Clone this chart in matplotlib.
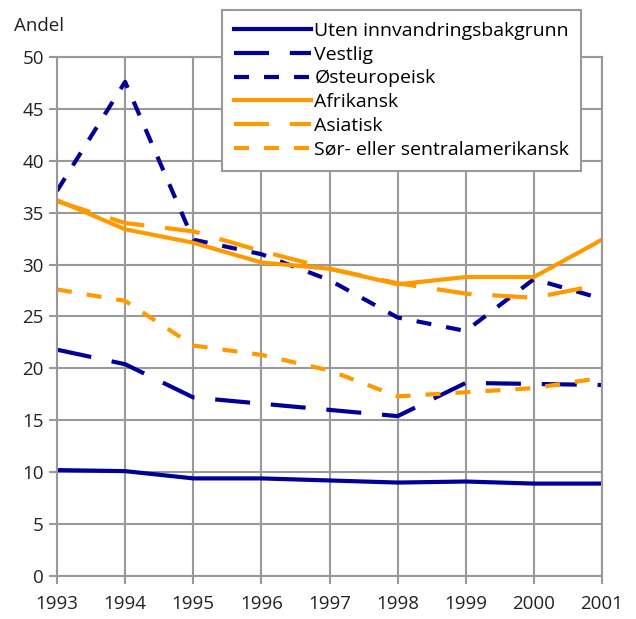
import matplotlib.pyplot as plt

plt.rcParams['font.family'] = ['Open Sans', 'DejaVu Sans']

years = [1993, 1994, 1995, 1996, 1997, 1998, 1999, 2000, 2001]
uten = [10.2, 10.1, 9.4, 9.4, 9.2, 9.0, 9.1, 8.9, 8.9]
vestlig = [21.8, 20.4, 17.2, 16.6, 16.0, 15.4, 18.6, 18.5, 18.4]
osteuropeisk = [37.1, 47.6, 32.4, 31.0, 28.5, 24.9, 23.6, 28.6, 26.7]
afrikansk = [36.2, 33.4, 32.1, 30.2, 29.6, 28.1, 28.8, 28.8, 32.4]
asiatisk = [36.1, 34.0, 33.2, 31.3, 29.6, 28.2, 27.2, 26.8, 28.1]
sor = [27.6, 26.5, 22.2, 21.3, 19.8, 17.3, 17.7, 18.1, 19.1]

navy = '#000099'
orange = '#FF9900'
grey = '#999999'

fig = plt.figure(figsize=(6.36, 6.19), dpi=100)
ax = fig.add_axes([0.0896, 0.0695, 0.857, 0.8385])

lw = 3.0
long_dash = (8.4, 5)
short_dash = (3.6, 3.6)
ax.plot(years, uten, color=navy, lw=lw, label='Uten innvandringsbakgrunn')
ax.plot(years, vestlig, color=navy, lw=lw, dashes=long_dash, label='Vestlig')
ax.plot(years, osteuropeisk, color=navy, lw=lw, dashes=short_dash, label='Østeuropeisk')
ax.plot(years, afrikansk, color=orange, lw=lw, label='Afrikansk')
ax.plot(years, asiatisk, color=orange, lw=lw, dashes=long_dash, label='Asiatisk')
ax.plot(years, sor, color=orange, lw=lw, dashes=short_dash, label='Sør- eller sentralamerikansk')

ax.set_xlim(1993, 2001)
ax.set_ylim(0, 50)
ax.set_xticks(years)
ax.set_yticks(range(0, 51, 5))
ax.grid(True, color=grey, lw=1.5)
ax.set_axisbelow(True)
for s in ax.spines.values():
    s.set_color(grey)
    s.set_linewidth(1.5)
ax.tick_params(colors=grey, width=1.5, length=6, labelsize=13.5, labelcolor='#222222')
ax.tick_params(axis='x', pad=8)

fig.text(0.022, 0.958, 'Andel', fontsize=13.5, color='#222222', va='center')

leg = ax.legend(loc='upper left', bbox_to_anchor=(222 / 636, 1 - 10 / 619),
                bbox_transform=fig.transFigure, fontsize=14, handlelength=4.0,
                handletextpad=0.15, labelspacing=0.3, borderpad=0.6,
                fancybox=False, framealpha=1, borderaxespad=0)
leg.get_frame().set_edgecolor(grey)
leg.get_frame().set_linewidth(1.5)

fig.savefig('out.png', dpi=100)
